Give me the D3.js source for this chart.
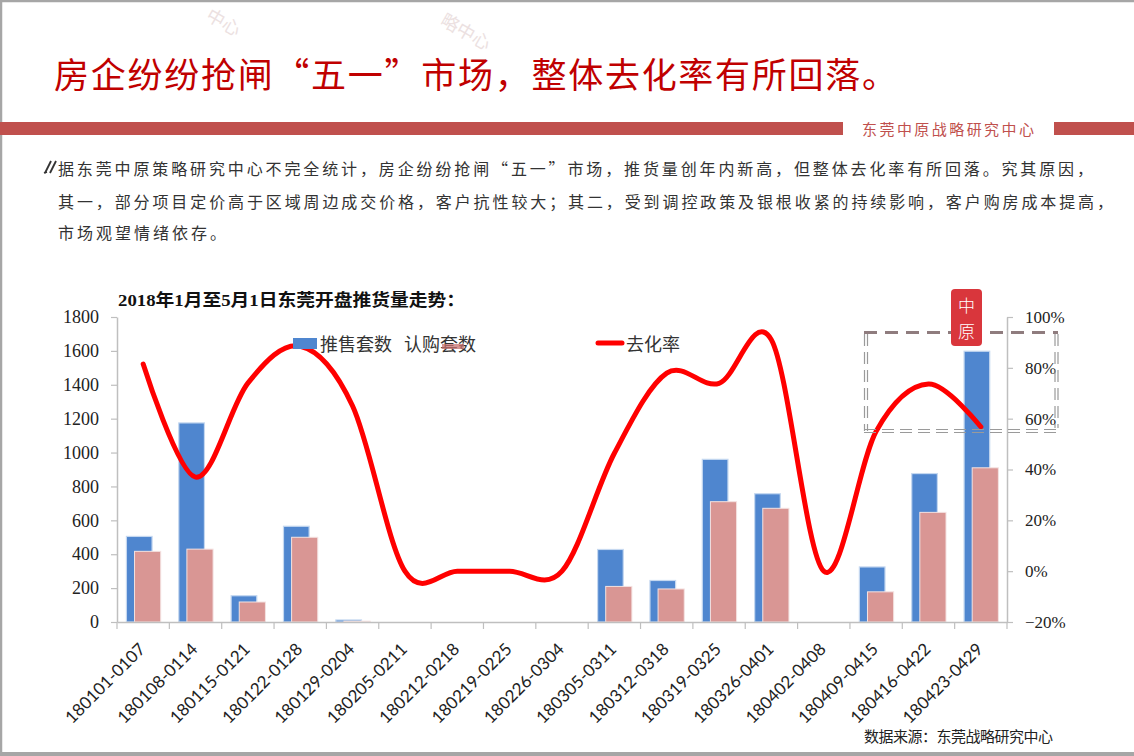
<!DOCTYPE html>
<html><head><meta charset="utf-8">
<script src="https://cdn.jsdelivr.net/npm/d3@7"></script>
<style>html,body{margin:0;padding:0;background:#fff;overflow:hidden} svg{display:block}</style>
</head><body>
<svg id="c" width="1134" height="756"></svg>
<script>
// ---------- data ----------
const categories = ["180101-0107","180108-0114","180115-0121","180122-0128","180129-0204","180205-0211","180212-0218","180219-0225","180226-0304","180305-0311","180312-0318","180319-0325","180326-0401","180402-0408","180409-0415","180416-0422","180423-0429"];
const supply = [505, 1175, 155, 565, 12, 0, 0, 0, 0, 428, 245, 960, 757, 0, 325, 876, 1598];   // 推售套数
const sold   = [417, 430, 118, 500, 5, 0, 0, 0, 0, 210, 195, 710, 671, 0, 178, 647, 910];      // 认购套数
const rate   = [0.815, 0.37, 0.74, 0.885, 0.65, 0, 0, 0, 0, 0.464, 0.779, 0.739, 0.91, 0, 0.55, 0.736, 0.568]; // 去化率
const leftTicks = [0,200,400,600,800,1000,1200,1400,1600,1800];
const rightTicks = [-0.2,0,0.2,0.4,0.6,0.8,1.0];
const seriesNames = ["推售套数","认购套数","去化率"];
const titleText = "房企纷纷抢闸“五一”市场，整体去化率有所回落。";
const orgName = "东莞中原战略研究中心";
const paraLines = [
  "据东莞中原策略研究中心不完全统计，房企纷纷抢闸“五一”市场，推货量创年内新高，但整体去化率有所回落。究其原因，",
  "其一，部分项目定价高于区域周边成交价格，客户抗性较大；其二，受到调控政策及银根收紧的持续影响，客户购房成本提高，",
  "市场观望情绪依存。"
];
const chartTitle = "2018年1月至5月1日东莞开盘推货量走势：";
const sourceText = "数据来源：东莞战略研究中心";
const watermarkBits = ["中心","略中心"];

// ---------- setup ----------
const svg = d3.select("#c");
const CJK = "'Noto Sans CJK SC', sans-serif";
const SERIF = "'Liberation Serif', 'Noto Sans CJK SC', serif";

// watermark fragments (faint)
const wm = svg.append("g").attr("fill","#ece1e1").attr("font-family",CJK).attr("font-size",18);
[[240,30],[490,44]].forEach((p,i)=>{
  wm.append("text").attr("transform",`translate(${p[0]},${p[1]}) rotate(30)`)
    .attr("text-anchor","end").attr("dominant-baseline","central").text(watermarkBits[i]);
});

// border
svg.append("line").attr("x1",1).attr("x2",1).attr("y1",0).attr("y2",756).attr("stroke","#a6a6a6").attr("stroke-width",2.5);
svg.append("line").attr("x1",0).attr("x2",1134).attr("y1",1).attr("y2",1).attr("stroke","#a6a6a6").attr("stroke-width",2.5);
svg.append("rect").attr("x",0).attr("y",752).attr("width",1134).attr("height",4).attr("fill","#a6a6a6");

// title
svg.append("text").attr("x",54).attr("y",72.5).attr("dominant-baseline","central")
  .attr("font-family",CJK).attr("font-size",35).attr("fill","#c00000")
  .attr("textLength",843).attr("lengthAdjust","spacing").text(titleText);

// header bar
svg.append("rect").attr("x",0).attr("y",122).attr("width",843).attr("height",13).attr("fill","#c0504d");
svg.append("rect").attr("x",1054).attr("y",122).attr("width",80).attr("height",13).attr("fill","#c0504d");
svg.append("text").attr("x",862).attr("y",128.5).attr("dominant-baseline","central")
  .attr("font-family",CJK).attr("font-size",15).attr("fill","#c0504d")
  .attr("textLength",172).attr("lengthAdjust","spacing").text(orgName);

// paragraph icon
const ic = svg.append("g").attr("stroke","#333").attr("stroke-width",1.8).attr("fill","none");
ic.append("path").attr("d","M45,173 L51,161");
ic.append("path").attr("d","M50,173 L56,161");
ic.append("path").attr("d","M44,173 L47,172");

// paragraph
const paraY = [168, 200.5, 231.5];
const paraLen = [1035, 1055, null];
paraLines.forEach((t,i)=>{
  const el = svg.append("text").attr("x",58).attr("y",paraY[i]).attr("dominant-baseline","central")
    .attr("font-family",CJK).attr("font-size",16).attr("fill","#333").text(t);
  if (paraLen[i]) el.attr("textLength",paraLen[i]).attr("lengthAdjust","spacing");
  else el.attr("letter-spacing",3);
});

// chart title
svg.append("text").attr("x",118).attr("y",300).attr("dominant-baseline","central")
  .attr("font-family",SERIF).attr("font-size",17).attr("font-weight","bold").attr("fill","#111")
  .attr("textLength",347).attr("lengthAdjust","spacingAndGlyphs").text(chartTitle);

// ---------- scales ----------
const x = d3.scaleBand().domain(categories).range([117,1007]).padding(0);
const yL = d3.scaleLinear().domain([0,1800]).range([622,317]);
const yR = d3.scaleLinear().domain([-0.2,1.0]).range([622,317]);
const bw = x.bandwidth();

// ---------- bars ----------
const bars = svg.append("g");
bars.selectAll("rect.s").data(categories).join("rect").attr("class","s")
  .attr("x",d=>x(d)+bw*0.18).attr("width",bw*0.49)
  .attr("y",(d,i)=>yL(supply[i])).attr("height",(d,i)=>yL(0)-yL(supply[i]))
  .attr("fill","#4f86cf").attr("stroke","#c5d8f0").attr("stroke-width",(d,i)=>supply[i]>0?1.2:0);
bars.selectAll("rect.p").data(categories).join("rect").attr("class","p")
  .attr("x",d=>x(d)+bw*0.335).attr("width",bw*0.5)
  .attr("y",(d,i)=>yL(sold[i])).attr("height",(d,i)=>yL(0)-yL(sold[i]))
  .attr("fill","#d99694").attr("stroke","#f4e2e1").attr("stroke-width",(d,i)=>sold[i]>0?1:0);

// ---------- axes ----------
const axisColor = "#bfbfbf";
const gl = svg.append("g").attr("transform","translate(117,0)")
  .call(d3.axisLeft(yL).tickValues(leftTicks).tickFormat(d3.format("d")).tickSize(6).tickPadding(12).tickSizeOuter(0));
const gr = svg.append("g").attr("transform","translate(1007,0)")
  .call(d3.axisRight(yR).tickValues(rightTicks).tickSize(6).tickPadding(12).tickSizeOuter(0).tickFormat(d3.format(".0%")));
[gl,gr].forEach(g=>{
  g.select(".domain").attr("stroke",axisColor).attr("stroke-width",1.5);
  g.selectAll(".tick line").attr("stroke",axisColor).attr("stroke-width",1.2);
  g.selectAll(".tick text").attr("font-family",SERIF).attr("font-size",18).attr("fill","#222");
});
gr.selectAll(".tick text").attr("font-size",17);

const gb = svg.append("g").attr("transform","translate(0,622)")
  .call(d3.axisBottom(x).tickSize(0).tickPadding(0).tickSizeOuter(0));
gb.select(".domain").attr("stroke",axisColor).attr("stroke-width",1.5);
gb.selectAll(".tick text").attr("font-family","Lato, 'Open Sans', sans-serif").attr("font-size",17).attr("fill","#222")
  .attr("y",0).attr("dy","0.35em").attr("text-anchor","end")
  .attr("transform","translate(-1,24) rotate(-45)");
// boundary ticks
const bounds = categories.map(c=>x(c)).concat([x.range()[1]]);
svg.append("g").selectAll("line").data(bounds).join("line")
  .attr("x1",d=>d).attr("x2",d=>d).attr("y1",622).attr("y2",629)
  .attr("stroke",axisColor).attr("stroke-width",1.2);

// ---------- line ----------
const line = d3.line().x((d,i)=>x(categories[i])+bw/2).y(d=>yR(d)).curve(d3.curveCardinal.tension(0));
svg.append("path").attr("d",line(rate)).attr("fill","none").attr("stroke","#ff0000")
  .attr("stroke-width",5).attr("stroke-linecap","round").attr("stroke-linejoin","round");

// ---------- legend ----------
const lg = svg.append("g").attr("font-family",CJK).attr("font-size",18).attr("fill","#333");
lg.append("rect").attr("x",293).attr("y",338).attr("width",24).attr("height",11).attr("fill","#4f86cf");
lg.append("text").attr("x",320).attr("y",343).attr("dominant-baseline","central").text(seriesNames[0]);
lg.append("text").attr("x",404).attr("y",343).attr("dominant-baseline","central").text(seriesNames[1]);
lg.append("rect").attr("x",442).attr("y",344).attr("width",22).attr("height",5).attr("fill","#c7716f").attr("opacity",0.75);
lg.append("line").attr("x1",598).attr("x2",622).attr("y1",343).attr("y2",343).attr("stroke","#ff0000").attr("stroke-width",5).attr("stroke-linecap","round");
lg.append("text").attr("x",626).attr("y",343).attr("dominant-baseline","central").text(seriesNames[2]);

// ---------- dashed highlight box ----------
const db = svg.append("g").attr("fill","none");
db.append("line").attr("x1",864).attr("x2",1058).attr("y1",332.5).attr("y2",332.5).attr("stroke","#8f7c7e").attr("stroke-width",3).attr("stroke-dasharray","13 8");
[864.5,867.5].forEach(xx=>db.append("line").attr("x1",xx).attr("x2",xx).attr("y1",334).attr("y2",431).attr("stroke","#9a9a9a").attr("stroke-width",1.2).attr("stroke-dasharray","12 6"));
[1055,1058].forEach(xx=>db.append("line").attr("x1",xx).attr("x2",xx).attr("y1",334).attr("y2",428).attr("stroke","#9a9a9a").attr("stroke-width",1.2).attr("stroke-dasharray","12 6"));
[429.5,432.5].forEach(yy=>db.append("line").attr("x1",864).attr("x2",1062).attr("y1",yy).attr("y2",yy).attr("stroke","#9a9a9a").attr("stroke-width",1.2).attr("stroke-dasharray","12 6"));

// ---------- logo ----------
const logo = svg.append("g");
logo.append("rect").attr("x",951).attr("y",289).attr("width",31).attr("height",57).attr("rx",4).attr("fill","#d9363c");
logo.append("text").attr("x",966.5).attr("y",304.5).attr("text-anchor","middle").attr("dominant-baseline","central")
  .attr("font-family",CJK).attr("font-size",17).attr("font-weight",300).attr("fill","#fff").text("中");
logo.append("text").attr("x",966.5).attr("y",330).attr("text-anchor","middle").attr("dominant-baseline","central")
  .attr("font-family",CJK).attr("font-size",17).attr("font-weight",300).attr("fill","#fff").text("原");

// ---------- source ----------
svg.append("text").attr("x",864).attr("y",735).attr("dominant-baseline","central")
  .attr("font-family",CJK).attr("font-size",15).attr("fill","#222")
  .attr("textLength",189).attr("lengthAdjust","spacing").text(sourceText);
</script>
</body></html>
